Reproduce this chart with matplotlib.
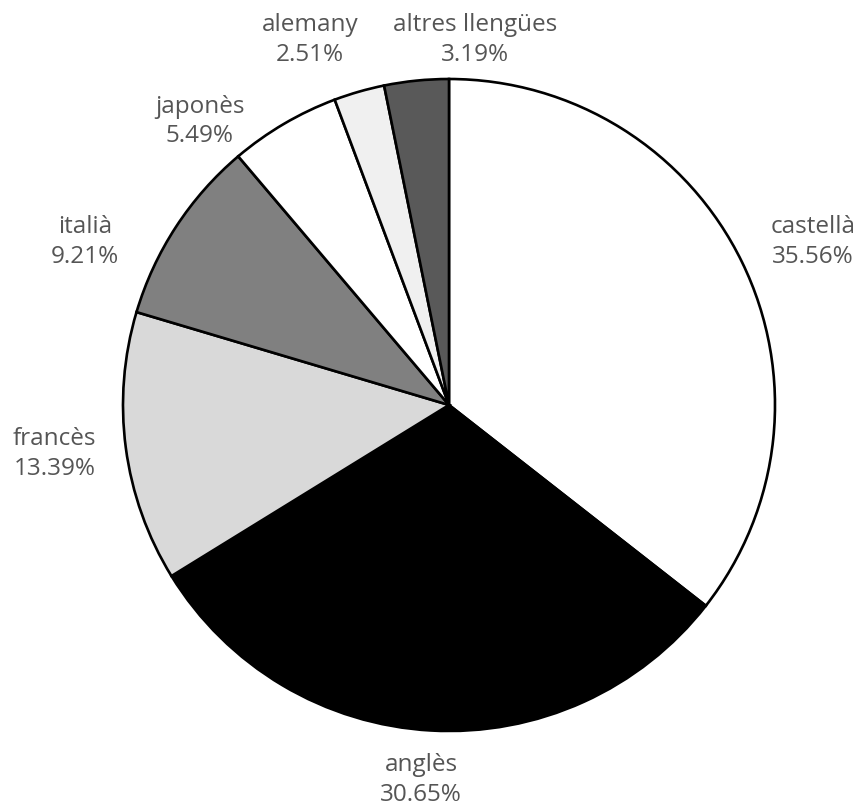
import matplotlib
matplotlib.use("Agg")
import matplotlib.pyplot as plt

languages = ['castellà', 'anglès', 'francès', 'italià', 'japonès', 'alemany', 'altres llengües']
shares = [35.56, 30.65, 13.39, 9.21, 5.49, 2.51, 3.19]
colors = ['#ffffff', '#000000', '#d9d9d9', '#808080', '#ffffff', '#f0f0f0', '#595959']

# label centres, in pie-radius units
label_pos = [(1.117, 0.50), (-0.086, -1.15), (-1.209, -0.15), (-1.117, 0.50),
             (-0.764, 0.87), (-0.426, 1.12), (0.080, 1.12)]

fig = plt.figure(figsize=(8.59, 8.09), dpi=100)
ax = fig.add_axes([123 / 859, 78 / 809, 652 / 859, 652 / 809])

wedges, _ = ax.pie(shares, colors=colors, startangle=90, counterclock=False,
                   radius=1.0, wedgeprops=dict(edgecolor='black', linewidth=1.9))

for name, val, (x, y) in zip(languages, shares, label_pos):
    ax.text(x, y, f'{name}\n{val:.2f}%', ha='center', va='center',
            fontsize=17.5, color='#555555', family='Open Sans', linespacing=1.3)

ax.set_xlim(-1, 1)
ax.set_ylim(-1, 1)
ax.set_aspect('equal')
ax.axis('off')

fig.savefig('out.png', dpi=100)
